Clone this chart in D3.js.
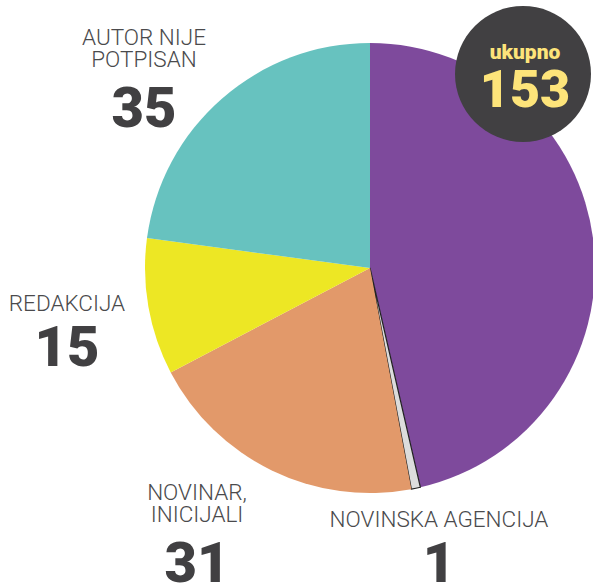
<!DOCTYPE html>
<html>
<head>
<meta charset="utf-8">
<script src="https://cdn.jsdelivr.net/npm/d3@7"></script>
<style>
  body { margin: 0; background: #fff; }
  .lbl { font-family: "Roboto", sans-serif; font-weight: 300; font-size: 22.5px; fill: #4a4a4c; }
  .num { font-family: "Roboto", sans-serif; font-weight: 900; font-size: 56px; fill: #414042; }
</style>
</head>
<body>
<div id="chart"></div>
<script>
var categories = ["PURPLE", "NOVINSKA AGENCIJA", "NOVINAR, INICIJALI", "REDAKCIJA", "AUTOR NIJE POTPISAN"];
var values = [71, 1, 31, 15, 35];
var colors = ["#7e4a9c", "#dcdcdc", "#e2996a", "#ede724", "#67c2bf"];
var total = 153;

var w = 593;
var h = 585;
var cx = 370;
var cy = 268;
var rad = 225;

var svg = d3.select("#chart").append("svg").attr("width", w).attr("height", h);

var pie = d3.pie().sort(null).value((d) => d)(values);
var arc = d3.arc().innerRadius(0).outerRadius(rad);

var slices = svg.append("g").attr("transform", `translate(${cx},${cy})`);
slices.selectAll("path")
  .data(pie)
  .enter()
  .append("path")
  .attr("d", arc)
  .attr("fill", (d, i) => colors[i])
  .attr("stroke", (d, i) => (i == 1 ? "#222" : "none"))
  .attr("stroke-width", 1.2);

// slice labels
var labels = [
  { lines: ["AUTOR NIJE", "POTPISAN"], x: 144, y: 45, ny: 127, v: values[4] },
  { lines: ["REDAKCIJA"], x: 67, y: 311, ny: 366, v: values[3] },
  { lines: ["NOVINAR,", "INICIJALI"], x: 197, y: 500, ny: 582, v: values[2] },
  { lines: ["NOVINSKA AGENCIJA"], x: 439, y: 527, ny: 582, v: values[1] }
];

var lg = svg.append("g");
labels.forEach((l) => {
  l.lines.forEach((t, j) => {
    lg.append("text")
      .attr("class", "lbl")
      .attr("x", l.x)
      .attr("y", l.y + j * 22)
      .attr("text-anchor", "middle")
      .text(t);
  });
  lg.append("text")
    .attr("class", "num")
    .attr("x", l.x)
    .attr("y", l.ny)
    .attr("text-anchor", "middle")
    .text(l.v);
});

// total badge
var badge = svg.append("g").attr("transform", "translate(523,74)");
badge.append("circle").attr("r", 68).attr("fill", "#414042");
badge.append("text")
  .attr("x", 2)
  .attr("y", -15)
  .attr("text-anchor", "middle")
  .style("font-family", "Roboto, sans-serif")
  .style("font-weight", 900)
  .style("font-size", "21px")
  .attr("fill", "#fde47a")
  .text("ukupno");
badge.append("text")
  .attr("x", 2)
  .attr("y", 33)
  .attr("text-anchor", "middle")
  .style("font-family", "Roboto, sans-serif")
  .style("font-weight", 900)
  .style("font-size", "52px")
  .attr("fill", "#fde47a")
  .text(total);
</script>
</body>
</html>
